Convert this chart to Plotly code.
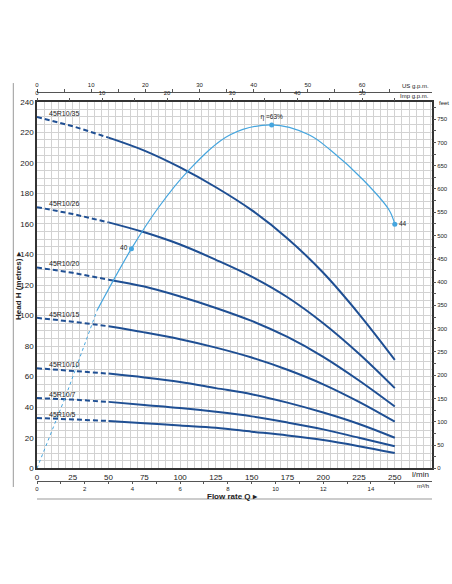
import plotly.graph_objects as go

# flow points (l/min) at which the head curves were read
q_lmin = [0, 25, 50, 75, 100, 125, 150, 175, 200, 225, 250]

models = ["45R10/35", "45R10/26", "45R10/20", "45R10/15", "45R10/10", "45R10/7", "45R10/5"]
h_35 = [230, 224, 216.5, 208, 197, 184, 169, 150.5, 128, 101, 71]
h_26 = [171, 166.5, 161, 154.5, 146.5, 136.5, 125.5, 112, 95, 75, 52.5]
h_20 = [131.5, 128, 123.5, 119, 112.5, 105, 96.5, 86, 73, 57.5, 40.5]
h_15 = [98.5, 96, 93, 89, 84.5, 79, 72.5, 64.5, 55, 43.5, 30.5]
h_10 = [65.5, 64, 62, 59.5, 56.5, 52.5, 48.5, 43, 36.5, 29, 20]
h_7 = [46, 45, 43.5, 41.5, 39.5, 37, 34, 30, 25.5, 20, 14.5]
h_5 = [33, 32, 31, 29.5, 28, 26.5, 24, 21.5, 18.5, 14.5, 10]
heads = [h_35, h_26, h_20, h_15, h_10, h_7, h_5]

# efficiency curve (%)
eff_q = [0, 20, 42, 66, 85, 105, 135, 164, 190, 205, 228, 246, 250]
eff_pct = [0, 13.2, 29.0, 40.3, 47.9, 54.4, 61.2, 63.0, 61.2, 58.4, 52.9, 47.4, 44.8]
eff_mark_q = [66, 164, 250]
eff_mark_pct = [40.3, 63.0, 44.8]
eff_mark_text = ["40", "η =63%", "44"]

q_ticks = [0, 25, 50, 75, 100, 125, 150, 175, 200, 225, 250]
h_ticks = list(range(0, 241, 20))
usgpm_ticks = [0, 10, 20, 30, 40, 50, 60]
usgpm_minor = [5, 15, 25, 35, 45, 55, 65]
impgpm_ticks = [0, 10, 20, 30, 40, 50]
impgpm_minor = [5, 15, 25, 35, 45, 55]
m3h_ticks = [0, 2, 4, 6, 8, 10, 12, 14]
m3h_minor = [1, 3, 5, 7, 9, 11, 13, 15]

Q_MAX = 276
H_MAX = 240
EFF_SCALE = 3.568  # metres per % on the chart

CURVE = "#1f4f93"
EFF = "#45a5de"
GRID = "#d2d2d2"
TXT = "#222222"
FONT = "Liberation Sans Narrow, Liberation Sans, Arial, sans-serif"

fig = go.Figure()

for name, h in zip(models, heads):
    fig.add_trace(go.Scatter(x=q_lmin[:3], y=h[:3], mode="lines",
                             line=dict(color=CURVE, width=2, dash="5px,3px")))
    fig.add_trace(go.Scatter(x=q_lmin[2:], y=h[2:], mode="lines", line_shape="spline",
                             line=dict(color=CURVE, width=2)))
    fig.add_annotation(x=7, y=h[0], text=name, showarrow=False, xanchor="left",
                       yanchor="bottom", yshift=-2, font=dict(size=7, color=TXT))

fig.add_trace(go.Scatter(x=eff_q[:3], y=eff_pct[:3], yaxis="y3", mode="lines",
                         line=dict(color=EFF, width=1, dash="dot")))
fig.add_trace(go.Scatter(x=eff_q[2:], y=eff_pct[2:], yaxis="y3", mode="lines",
                         line_shape="spline", line=dict(color=EFF, width=1.2)))
fig.add_trace(go.Scatter(x=eff_mark_q, y=eff_mark_pct, yaxis="y3", mode="markers+text",
                         marker=dict(color=EFF, size=5), text=eff_mark_text,
                         textposition=["middle left", "top center", "middle right"],
                         textfont=dict(size=6.5, color=TXT, family=FONT)))

# empty traces so the unit-conversion axes get drawn
fig.add_trace(go.Scatter(x=[], y=[], xaxis="x2", yaxis="y"))
fig.add_trace(go.Scatter(x=[], y=[], xaxis="x3", yaxis="y"))
fig.add_trace(go.Scatter(x=[], y=[], xaxis="x4", yaxis="y"))
fig.add_trace(go.Scatter(x=[], y=[], xaxis="x", yaxis="y2"))

small = dict(size=6, color=TXT, family=FONT)
main = dict(size=8, color=TXT, family=FONT)

fig.update_layout(
    width=452, height=584,
    margin=dict(l=37, r=20, t=92, b=103, autoexpand=False),
    paper_bgcolor="white", plot_bgcolor="white",
    showlegend=False,
    font=dict(family=FONT, color=TXT),
    xaxis=dict(range=[0, Q_MAX], tickvals=q_ticks, tickfont=main, ticks="",
               showgrid=True, gridcolor=GRID, gridwidth=0.6,
               minor=dict(dtick=5, tick0=0, showgrid=True, gridcolor=GRID, gridwidth=0.6),
               showline=True, linecolor="#333", linewidth=1.5, mirror=True,
               zeroline=False, fixedrange=True, automargin=False),
    yaxis=dict(range=[0, H_MAX], tickvals=h_ticks, tickfont=main, ticks="",
               domain=[0.0326, 0.975],
               showgrid=True, gridcolor=GRID, gridwidth=0.6,
               minor=dict(dtick=5, tick0=0, showgrid=True, gridcolor=GRID, gridwidth=0.6),
               showline=True, linecolor="#333", linewidth=1.5, mirror=True,
               zeroline=False, fixedrange=True, automargin=False),
    xaxis2=dict(overlaying="x", anchor="free", position=1, side="top",
                range=[0, Q_MAX / 3.78541], tickvals=usgpm_ticks, tickfont=small,
                ticks="outside", ticklen=3, tickcolor="#555",
                minor=dict(tickvals=usgpm_minor, ticks="outside", ticklen=3, tickcolor="#555"),
                showline=True, linecolor="#555", linewidth=1, showgrid=False,
                zeroline=False, automargin=False),
    xaxis3=dict(overlaying="x", anchor="y", side="top",
                range=[0, Q_MAX / 4.54609], tickvals=impgpm_ticks, tickfont=small,
                ticks="outside", ticklen=3, tickcolor="#555",
                minor=dict(tickvals=impgpm_minor, ticks="outside", ticklen=3, tickcolor="#555"),
                showline=False, showgrid=False, zeroline=False, automargin=False),
    xaxis4=dict(overlaying="x", anchor="free", position=0, side="bottom",
                range=[0, Q_MAX * 0.06], tickvals=m3h_ticks, tickfont=small,
                ticks="outside", ticklen=2, tickcolor="#555",
                minor=dict(tickvals=m3h_minor, ticks="outside", ticklen=2, tickcolor="#555"),
                showline=True, linecolor="#555", linewidth=1, showgrid=False,
                zeroline=False, automargin=False),
    yaxis2=dict(overlaying="y", anchor="x", side="right",
                range=[0, H_MAX * 3.28084], dtick=50, tick0=0, tickfont=small,
                ticks="outside", ticklen=3, tickcolor="#555",
                minor=dict(dtick=25, tick0=0, ticks="outside", ticklen=3, tickcolor="#555"),
                showline=False, showgrid=False, zeroline=False, automargin=False),
    yaxis3=dict(overlaying="y", range=[0, H_MAX / EFF_SCALE], visible=False),
)

labels = [
    ("l/min", 0.9975, 0.0172, "right", main),
    ("m³/h", 0.9975, -0.012, "right", small),
    ("US g.p.m.", 0.9975, 1.0162, "right", small),
    ("Imp g.p.m.", 0.9975, 0.9905, "right", small),
    ("feet", 1.012, 0.9725, "left", small),
]
for text, x, y, xa, f in labels:
    fig.add_annotation(x=x, y=y, xref="paper", yref="paper", text=text, showarrow=False,
                       xanchor=xa, yanchor="middle", font=f)

fig.add_annotation(x=-0.0456, y=0.504, xref="paper", yref="paper", textangle=-90,
                   xanchor="center", yanchor="middle",
                   text="<b>Head H (metres) ▸</b>", showarrow=False,
                   font=dict(size=8, color=TXT, family=FONT))
fig.add_annotation(x=0.496, y=-0.041, xref="paper", yref="paper",
                   xanchor="center", yanchor="middle",
                   text="<b>Flow rate Q ▸</b>", showarrow=False,
                   font=dict(size=8, color=TXT, family=FONT))

# outer frame lines
fig.add_shape(type="line", xref="paper", yref="paper", x0=-0.06, x1=-0.06, y0=-0.0154, y1=1.023,
              line=dict(color="#999", width=1))
fig.add_shape(type="line", xref="paper", yref="paper", x0=0, x1=1, y0=-0.0463, y1=-0.0463,
              line=dict(color="#999", width=1))

fig.write_html("out.html", config={"displayModeBar": False},
               post_script="document.body.style.margin='0';")
